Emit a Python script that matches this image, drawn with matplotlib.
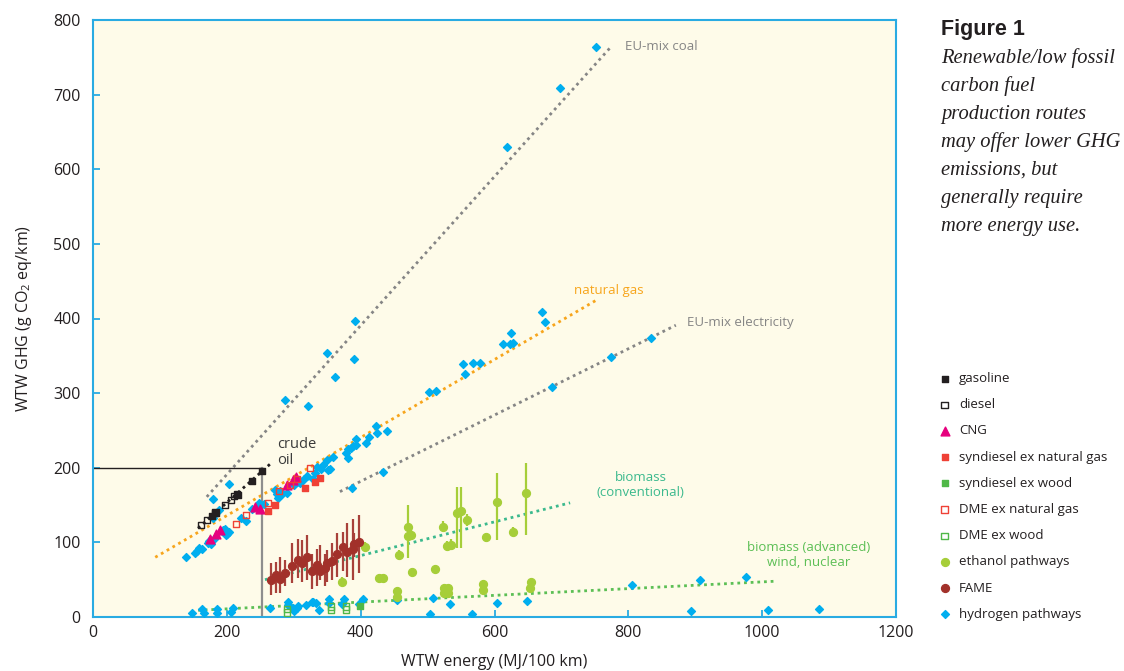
import numpy as np
import matplotlib.pyplot as plt

plt.rcParams['font.family'] = ['Open Sans', 'DejaVu Sans']
plt.rcParams['mathtext.fontset'] = 'custom'
plt.rcParams['mathtext.rm'] = 'Open Sans'

# ---- data (x: MJ/100 km, y: g CO2 eq/km) ----
gasoline_x = [252, 238, 216, 182, 178]
gasoline_y = [196, 182, 163, 139, 135]

diesel_x = [161, 170, 183, 197, 206, 211, 215]
diesel_y = [123, 130, 140, 150, 157, 162, 165]

cng_x = [175, 184, 190, 242, 250, 290, 299, 303]
cng_y = [105, 111, 117, 147, 145, 177, 184, 188]

syn_ng_x = [262, 272, 317, 332, 339]
syn_ng_y = [142, 150, 173, 181, 186]

syn_wood_x = [399]
syn_wood_y = [15]

dme_ng_x = [214, 229, 262, 278, 294, 305, 324]
dme_ng_y = [125, 137, 153, 169, 177, 185, 200]

dme_wood_x = [290, 290, 356, 356, 378, 378]
dme_wood_y = [6, 11, 9, 14, 10, 14]

ethanol_x = [407, 372, 428, 434, 454, 454, 458, 471, 470, 475, 477, 511, 523, 524, 531,
             524, 531, 529, 535, 544, 550, 559, 583, 583, 587, 604, 628, 647, 654, 653]
ethanol_y = [94, 47, 52, 52, 35, 27, 83, 121, 109, 110, 60, 64, 121, 39, 39,
             32, 32, 95, 97, 139, 142, 130, 44, 36, 107, 154, 114, 166, 47, 39]
ethanol_lo = [87, 41, 48, 48, 35, 27, 76, 79, 109, 103, 55, 60, 114, 39, 39,
              32, 32, 88, 90, 92, 92, 122, 44, 36, 101, 103, 108, 110, 47, 39]
ethanol_hi = [101, 53, 56, 56, 35, 27, 90, 150, 109, 117, 65, 68, 128, 39, 39,
              32, 32, 102, 104, 174, 174, 138, 44, 36, 113, 193, 120, 206, 47, 39]

fame_x = [266, 273, 280, 287, 297, 306, 313, 320, 327, 335,
          339, 347, 350, 357, 365, 374, 380, 389, 390, 398]
fame_y = [50, 56, 51, 59, 69, 76, 72, 80, 61, 70,
          62, 66, 72, 75, 84, 94, 87, 91, 98, 101]
fame_lo = [30, 32, 32, 41, 45, 52, 47, 50, 38, 41,
           50, 41, 47, 50, 54, 61, 54, 50, 80, 59]
fame_hi = [73, 74, 81, 76, 99, 105, 103, 110, 85, 91,
           97, 85, 90, 99, 113, 114, 126, 131, 112, 137]

hydrogen_x = [752, 698, 619, 392, 350, 390, 362, 287, 322, 203, 180,
              188, 179,
              139, 152, 155, 163, 158, 172, 176, 173, 181, 193, 197, 200, 199, 203, 194,
              221, 229, 238, 248, 250, 256, 272, 275, 277, 283, 290, 280, 300, 305, 308,
              310, 315, 320, 329, 332, 335, 341, 344, 351, 350, 354, 359, 378, 381, 386,
              389, 393, 393, 381, 408, 412, 423, 425, 439, 502, 513, 553, 556, 568, 578,
              613, 623, 628, 625, 671, 675,
              387, 434, 686, 774, 834,
              148, 163, 166, 185, 185, 206, 209, 265, 291, 291, 299, 300, 305, 307, 318,
              327, 329, 333, 338, 353, 353, 372, 375, 398, 404, 454, 508, 504, 534, 567,
              604, 649, 805, 907, 976, 894, 1009, 1085]
hydrogen_y = [764, 709, 630, 397, 354, 346, 321, 291, 283, 178, 158,
              143, 133,
              80, 86, 88, 91, 93, 99, 98, 102, 105, 115, 118, 111, 110, 114, 117,
              133, 129, 145, 153, 149, 152, 170, 165, 160, 165, 166, 169, 177, 181, 184,
              180, 185, 189, 185, 193, 201, 198, 204, 197, 210, 198, 214, 220, 225, 227,
              229, 231, 239, 213, 233, 241, 256, 247, 249, 302, 303, 339, 326, 340, 340,
              366, 366, 367, 381, 409, 395,
              173, 194, 308, 348, 374,
              5, 11, 5, 11, 5, 7, 12, 12, 20, 16, 12, 8, 12, 15, 16,
              20, 20, 19, 9, 24, 19, 17, 24, 17, 24, 23, 25, 4, 17, 4,
              19, 21, 43, 50, 54, 8, 9, 11]

# trend lines (end points)
coal_x, coal_y = [170, 773], [161, 763]
natgas_x, natgas_y = [93, 753], [80, 425]
elec_x, elec_y = [369, 871], [168, 391]
crude_line_x, crude_line_y = [157, 266], [119, 206]
bio_conv_x, bio_conv_y = [257, 713], [50, 153]
bio_adv_x, bio_adv_y = [157, 1021], [9, 48]
crude_ref_x, crude_ref_y = 253, 200

caption_title = 'Figure 1'
caption_lines = ['Renewable/low fossil', 'carbon fuel', 'production routes',
                 'may offer lower GHG', 'emissions, but', 'generally require',
                 'more energy use.']

# ---- colours ----
frame_c = '#29abe2'
text_c = '#231f20'
gray_c = '#858585'
orange_c = '#f7a51c'
teal_c = '#3bb98d'
green_c = '#5cbf55'

fig = plt.figure(figsize=(11.24, 6.71), dpi=100)
ax = fig.add_axes([93 / 1124, 54 / 671, 803 / 1124, 597 / 671])
ax.set_facecolor('#fefbe9')
ax.set_xlim(0, 1200)
ax.set_ylim(0, 800)

dots = (0, (1, 1.4))
ax.plot(coal_x, coal_y, ls=dots, lw=2, color=gray_c, zorder=2)
ax.plot(elec_x, elec_y, ls=dots, lw=2, color=gray_c, zorder=2)
ax.plot(natgas_x, natgas_y, ls=dots, lw=2, color=orange_c, zorder=2)
ax.plot(crude_line_x, crude_line_y, ls=dots, lw=2, color=text_c, zorder=2)
ax.plot(bio_conv_x, bio_conv_y, ls=dots, lw=2, color=teal_c, zorder=2)
ax.plot(bio_adv_x, bio_adv_y, ls=dots, lw=2, color=green_c, zorder=2)

ax.plot([0, crude_ref_x], [crude_ref_y, crude_ref_y], color=text_c, lw=1, zorder=2)
ax.plot([crude_ref_x, crude_ref_x], [0, crude_ref_y], color='#8e8e8e', lw=1.6, zorder=2)

# error bars
eth_x = np.array(ethanol_x)
eth_y = np.array(ethanol_y)
ax.errorbar(eth_x, eth_y, yerr=[eth_y - np.array(ethanol_lo), np.array(ethanol_hi) - eth_y],
            fmt='none', ecolor='#a6ce39', elinewidth=1.6, capsize=0, zorder=3)
fa_x = np.array(fame_x)
fa_y = np.array(fame_y)
ax.errorbar(fa_x, fa_y, yerr=[fa_y - np.array(fame_lo), np.array(fame_hi) - fa_y],
            fmt='none', ecolor='#a8413a', elinewidth=1.6, capsize=0, zorder=3)

h = []
h.append(ax.scatter(gasoline_x, gasoline_y, marker='s', s=21, color=text_c, label='gasoline', zorder=5))
h.append(ax.scatter(diesel_x, diesel_y, marker='s', s=20, facecolors='none', edgecolors=text_c,
                    linewidths=1, label='diesel', zorder=5))
h.append(ax.scatter(cng_x, cng_y, marker='^', s=40, color='#e6007e', label='CNG', zorder=5))
h.append(ax.scatter(syn_ng_x, syn_ng_y, marker='s', s=21, color='#ef4136',
                    label='syndiesel ex natural gas', zorder=5))
h.append(ax.scatter(syn_wood_x, syn_wood_y, marker='s', s=21, color='#50b848',
                    label='syndiesel ex wood', zorder=5))
h.append(ax.scatter(dme_ng_x, dme_ng_y, marker='s', s=20, facecolors='none', edgecolors='#ef4136',
                    linewidths=1, label='DME ex natural gas', zorder=5))
h.append(ax.scatter(dme_wood_x, dme_wood_y, marker='s', s=20, facecolors='none', edgecolors='#50b848',
                    linewidths=1, label='DME ex wood', zorder=5))
h.append(ax.scatter(ethanol_x, ethanol_y, marker='o', s=32, color='#a6ce39',
                    label='ethanol pathways', zorder=5))
h.append(ax.scatter(fame_x, fame_y, marker='o', s=32, color='#a2312a', label='FAME', zorder=5))
h.append(ax.scatter(hydrogen_x, hydrogen_y, marker='D', s=16, color='#00aeef',
                    label='hydrogen pathways', zorder=4))

# line labels
ax.text(795, 764, 'EU-mix coal', color=gray_c, fontsize=9.5, va='center', ha='left')
ax.text(719, 438, 'natural gas', color=orange_c, fontsize=9.5, va='center', ha='left')
ax.text(887, 395, 'EU-mix electricity', color=gray_c, fontsize=9.5, va='center', ha='left')
ax.text(275, 221, 'crude\noil', color='#3a3a3a', fontsize=10.5, va='center', ha='left',
        linespacing=1.1)
ax.text(818, 177, 'biomass\n(conventional)', color=teal_c, fontsize=9.5, va='center',
        ha='center', linespacing=1.2)
ax.text(1070, 83, 'biomass (advanced)\nwind, nuclear', color=green_c, fontsize=9.5,
        va='center', ha='center', linespacing=1.2)

# axes styling
for sp in ax.spines.values():
    sp.set_color(frame_c)
    sp.set_linewidth(1.5)
ax.set_xticks(np.arange(0, 1201, 200))
ax.set_yticks(np.arange(0, 801, 100))
ax.tick_params(direction='in', length=5, width=1.3, color=frame_c, labelsize=11.5,
               labelcolor=text_c)
ax.tick_params(axis='x', pad=6)
ax.tick_params(axis='y', pad=9)
ax.set_xlabel('WTW energy (MJ/100 km)', fontsize=11.5, color=text_c)
ax.set_ylabel(r'WTW GHG (g CO$_2$ eq/km)', fontsize=11.5, color=text_c)
ax.xaxis.set_label_coords(0.5, -0.062)
ax.yaxis.set_label_coords(-0.074, 0.5)

leg = ax.legend(handles=h, loc='upper left', bbox_to_anchor=(938 / 1124, 1 - 372 / 671),
                bbox_transform=fig.transFigure, frameon=False, fontsize=9.5,
                labelspacing=1.0, handlelength=1.0, handletextpad=0.6,
                borderpad=0, borderaxespad=0, scatterpoints=1)
for t in leg.get_texts():
    t.set_color(text_c)

# caption
fig.text(941 / 1124, 1 - 30 / 671, caption_title, fontsize=15.5, fontweight='bold',
         family=['Liberation Sans', 'DejaVu Sans'], color=text_c, va='center', ha='left')
for i, line in enumerate(caption_lines):
    fig.text(941 / 1124, 1 - (58 + 28.1 * i) / 671, line, fontsize=14.8, style='italic',
             family=['Liberation Serif', 'DejaVu Serif'], color=text_c, va='center', ha='left')

fig.savefig('out.png', dpi=100)
